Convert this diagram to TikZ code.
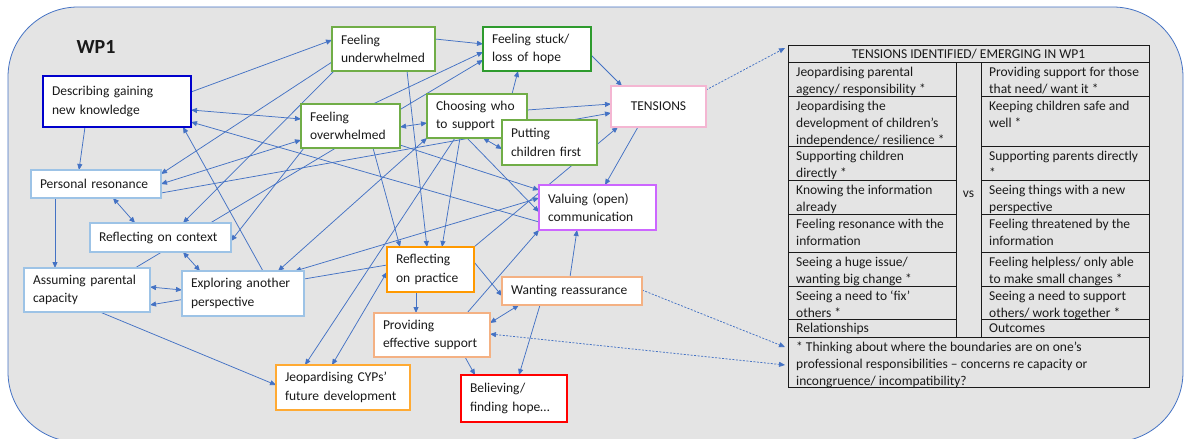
\documentclass[tikz,border=0pt]{standalone}
\usepackage{fontspec}
\setmainfont{Carlito}
\usepackage{tikz}
\usetikzlibrary{arrows.meta,calc,backgrounds}
\definecolor{link}{HTML}{4472C4}
\definecolor{panel}{HTML}{E4E4E4}
\definecolor{kblue}{HTML}{0000CC}
\definecolor{lblue}{HTML}{9DC3E6}
\definecolor{lgreen}{HTML}{70AD47}
\definecolor{dgreen}{HTML}{2E9B2E}
\definecolor{pinkc}{HTML}{F4B6D2}
\definecolor{purplec}{HTML}{CC66FF}
\definecolor{orangec}{HTML}{FF9900}
\definecolor{lorange}{HTML}{F4B183}
\definecolor{morange}{HTML}{FFAA33}
\definecolor{redc}{HTML}{FF0000}
\definecolor{ink}{HTML}{1A1A1A}
\newcommand{\boxfont}{\fontsize{13.5}{18.5}\selectfont}
\newcommand{\tabfont}{\fontsize{13.5}{17}\selectfont}
\tikzset{
  box/.style={draw=#1, fill=white, anchor=north west, align=left, font=\boxfont, text=ink,
              inner xsep=9pt, inner ysep=0pt, outer sep=0pt, line width=1.1pt},
  kbox/.style={box=#1, line width=2.6pt},
  cell/.style={anchor=north west, align=left, font=\tabfont, text=ink, inner sep=0pt},
  tline/.style={draw=ink, line width=0.8pt},
  arr/.style={-{Triangle[length=6pt,width=5pt]}, line width=0.75pt, draw=link},
  darr/.style={{Triangle[length=6pt,width=5pt]}-{Triangle[length=6pt,width=5pt]}, line width=0.75pt, draw=link},
  dsh/.style={line width=0.75pt, draw=link, dash pattern=on 2pt off 1.5pt},
}

\begin{document}
\begin{tikzpicture}[x=1pt, y=-1pt]
  \useasboundingbox (0,0) rectangle (1184,439);
  \node[font=\fontsize{20}{24}\selectfont\bfseries, text=ink] (wp) at (96,47) {WP1};

  % concepts
  \node[kbox=kblue, text width=130pt, minimum height=51pt] (desc) at (43,76) {Describing gaining\\new knowledge};
  \node[box=lblue, text width=112pt, minimum height=28pt] (pers) at (31,170) {Personal resonance};
  \node[kbox=lblue, text width=123pt, minimum height=29pt] (ctx) at (90,223) {Reflecting on context};
  \node[box=lblue, text width=108pt, minimum height=44pt] (assum) at (24,268) {Assuming parental\\capacity};
  \node[box=lblue, text width=104pt, minimum height=45pt] (other) at (182,271) {Exploring another\\perspective};
  \node[box=morange, text width=116pt, minimum height=45pt] (cyp) at (276,365) {Jeopardising CYPs’\\future development};
  \node[box=lgreen, text width=85pt, minimum height=44pt] (under) at (332,27) {Feeling\\underwhelmed};
  \node[kbox=dgreen, text width=90pt, minimum height=44pt] (stuck) at (483,27) {Feeling stuck/\\loss of hope};
  \node[box=lgreen, text width=81pt, minimum height=44pt] (over) at (301,104) {Feeling\\overwhelmed};
  \node[box=lgreen, text width=82pt, minimum height=44pt] (who) at (427,94) {Choosing who\\to support};
  \node[box=lgreen, text width=77pt, minimum height=45pt] (first) at (502,120) {Putting\\children first};
  \node[box=pinkc, text width=77pt, minimum height=41pt, align=center] (tens) at (611,86) {TENSIONS};
  \node[kbox=purplec, text width=99pt, minimum height=45pt] (comm) at (539,185) {Valuing (open)\\communication};
  \node[kbox=orangec, text width=69pt, minimum height=45pt] (prac) at (387,247) {Reflecting\\on practice};
  \node[box=lorange, text width=122pt, minimum height=28pt] (reass) at (502,277) {Wanting reassurance};
  \node[box=lorange, text width=98pt, minimum height=44pt] (supp) at (374,313) {Providing\\effective support};
  \node[kbox=redc, text width=88pt, minimum height=47pt] (hope) at (461,375) {Believing/\\finding hope…};

  % tensions table
  \node[draw=ink, line width=0.8pt, anchor=north west, inner sep=0pt, outer sep=0pt,
        minimum width=361pt, minimum height=342pt] (tbl) at (788,45) {};
  \draw[tline] (788,62) -- (1149,62) (788,337) -- (1149,337) (956,62) -- (956,337) (981,62) -- (981,337);
  \foreach \yy in {96,146,180,214,252,286,319} {
    \draw[tline] (788,\yy) -- (956,\yy) (981,\yy) -- (1149,\yy);
  }
  \node[font=\tabfont, text=ink] (hdr) at (968.5,54) {TENSIONS IDENTIFIED/ EMERGING IN WP1};
  \node[font=\tabfont, text=ink] (vs) at (968.5,194) {vs};
  \node[cell] (l1) at (796,64) {\strut Jeopardising parental\\agency/ responsibility *};
  \node[cell] (r1) at (989,64) {\strut Providing support for those\\that need/ want it *};
  \node[cell] (l2) at (796,98) {\strut Jeopardising the\\development of children’s\\independence/ resilience *};
  \node[cell] (r2) at (989,98) {\strut Keeping children safe and\\well *};
  \node[cell] (l3) at (796,148) {\strut Supporting children\\directly *};
  \node[cell] (r3) at (989,148) {\strut Supporting parents directly\\*};
  \node[cell] (l4) at (796,182) {\strut Knowing the information\\already};
  \node[cell] (r4) at (989,182) {\strut Seeing things with a new\\perspective};
  \node[cell] (l5) at (796,216) {\strut Feeling resonance with the\\information};
  \node[cell] (r5) at (989,216) {\strut Feeling threatened by the\\information};
  \node[cell] (l6) at (796,254) {\strut Seeing a huge issue/\\wanting big change *};
  \node[cell] (r6) at (989,254) {\strut Feeling helpless/ only able\\to make small changes *};
  \node[cell] (l7) at (796,288) {\strut Seeing a need to ‘fix’\\others *};
  \node[cell] (r7) at (989,288) {\strut Seeing a need to support\\others/ work together *};
  \node[cell] (l8) at (796,320) {\strut Relationships};
  \node[cell] (r8) at (989,320) {\strut Outcomes};
  \node[cell] (foot) at (796,339) {\strut * Thinking about where the boundaries are on one’s\\professional responsibilities – concerns re capacity or\\incongruence/ incompatibility?};

  \begin{pgfonlayer}{background}
    \fill[panel] (8,7) [rounded corners=70pt] rectangle (1183,442);
    \draw[link, line width=0.8pt, rounded corners=70pt] (8,7) rectangle (1183,442);
    % describing
    \draw[arr] ($(desc.north west)+(148,16)$) -- ($(under.north west)+(0,13)$);
    \draw[darr] ($(desc.north west)+(148,34)$) -- ($(over.north west)+(0,15)$);
    \draw[arr] ($(comm.north west)+(0,37)$) -- ($(desc.north west)+(148,46)$);
    \draw[arr] ($(desc.north west)+(42,51)$) -- ($(pers.north west)+(48,0)$);
    \draw[arr] ($(other.north west)+(81,0)$) -- ($(desc.north west)+(140,51)$);
    % personal resonance
    \draw[arr] ($(under.north west)+(0,35)$) -- ($(pers.north west)+(130,4)$);
    \draw[darr] ($(pers.north west)+(130,14)$) -- ($(over.north west)+(0,36)$);
    \draw[arr] ($(pers.north west)+(130,23)$) -- ($(tens.north west)+(0,27)$);
    \draw[darr] ($(pers.north west)+(82,28)$) -- ($(ctx.north west)+(45,0)$);
    \draw[arr] ($(pers.north west)+(24,28)$) -- ($(assum.north west)+(31,0)$);
    % stuck
    \draw[arr] ($(under.north west)+(103,12)$) -- ($(stuck.north west)+(0,17)$);
    \draw[arr] ($(over.north west)+(72,0)$) -- ($(stuck.north west)+(0,25)$);
    \draw[arr] ($(assum.north west)+(111,0)$) -- ($(stuck.north west)+(0,33)$);
    \draw[arr] ($(who.north west)+(85,0)$) -- ($(stuck.north west)+(35,44)$);
    \draw[arr] ($(stuck.north west)+(108,28)$) -- ($(tens.north west)+(11,0)$);
    % reflecting on practice
    \draw[arr] ($(under.north west)+(75,44)$) -- ($(prac.north west)+(40,0)$);
    \draw[arr] ($(over.north west)+(72,44)$) -- ($(prac.north west)+(13,0)$);
    \draw[arr] ($(who.north west)+(33,44)$) -- ($(prac.north west)+(55,0)$);
    \draw[arr] ($(prac.north west)+(87,0)$) -- ($(tens.north west)+(7,41)$);
    \draw[darr] ($(cyp.north west)+(56,0)$) -- ($(prac.north west)+(0,25)$);
    \draw[arr] ($(prac.north west)+(0,18)$) -- ($(assum.north west)+(126,37)$);
    \draw[arr] ($(prac.north west)+(29,45)$) -- ($(supp.north west)+(42,0)$);
    \draw[arr] ($(prac.north west)+(87,15)$) -- ($(reass.north west)+(0,19)$);
    % context / other perspective
    \draw[arr] ($(under.north west)+(2,44)$) -- ($(ctx.north west)+(93,0)$);
    \draw[arr] ($(over.north west)+(3,44)$) -- ($(ctx.north west)+(141,18)$);
    \draw[darr] ($(ctx.north west)+(93,29)$) -- ($(other.north west)+(18,0)$);
    \draw[darr] ($(who.north west)+(0,44)$) -- ($(other.north west)+(96,0)$);
    \draw[darr] ($(other.north west)+(113,0)$) -- ($(comm.north west)+(0,13)$);
    \draw[darr] ($(assum.north west)+(126,19)$) -- ($(other.north west)+(0,19)$);
    % communication
    \draw[arr] ($(over.north west)+(99,41)$) -- ($(comm.north west)+(0,5)$);
    \draw[arr] ($(who.north west)+(40,44)$) -- ($(comm.north west)+(0,27)$);
    \draw[arr] ($(supp.north west)+(93,0)$) -- ($(comm.north west)+(0,45)$);
    \draw[arr] ($(tens.north west)+(27,41)$) -- ($(comm.north west)+(66,0)$);
    \draw[arr] ($(reass.north west)+(68,0)$) -- ($(comm.north west)+(38,45)$);
    % choosing who
    \draw[arr] ($(who.north west)+(100,16)$) -- ($(tens.north west)+(0,18)$);
    \draw[darr] ($(who.north west)+(0,29)$) -- ($(over.north west)+(99,23)$);
    \draw[darr] ($(who.north west)+(56,44)$) -- ($(first.north west)+(0,29)$);
    \draw[arr] ($(who.north west)+(28,44)$) -- ($(cyp.north west)+(29,0)$);
    % lower part
    \draw[arr] ($(assum.north west)+(76,44)$) -- ($(cyp.north west)+(0,20)$);
    \draw[darr] ($(reass.north west)+(17,28)$) -- ($(supp.north west)+(116,10)$);
    \draw[arr] ($(reass.north west)+(38,28)$) -- ($(hope.north west)+(58,0)$);
    \draw[arr] ($(supp.north west)+(91,44)$) -- ($(hope.north west)+(14,0)$);
    % into the table
    \draw[dsh, -{Triangle[length=6pt,width=5pt]}] ($(tens.north west)+(95,4)$) -- ($(tbl.north west)+(-3,3)$);
    \draw[dsh, -{Triangle[length=6pt,width=5pt]}] ($(reass.north west)+(140,13)$) -- ($(tbl.north west)+(-3,302)$);
    \draw[dsh, {Triangle[length=6pt,width=5pt]}-{Triangle[length=6pt,width=5pt]}] ($(supp.north west)+(116,21)$) -- ($(tbl.north west)+(-3,320)$);
  \end{pgfonlayer}
\end{tikzpicture}
\end{document}
